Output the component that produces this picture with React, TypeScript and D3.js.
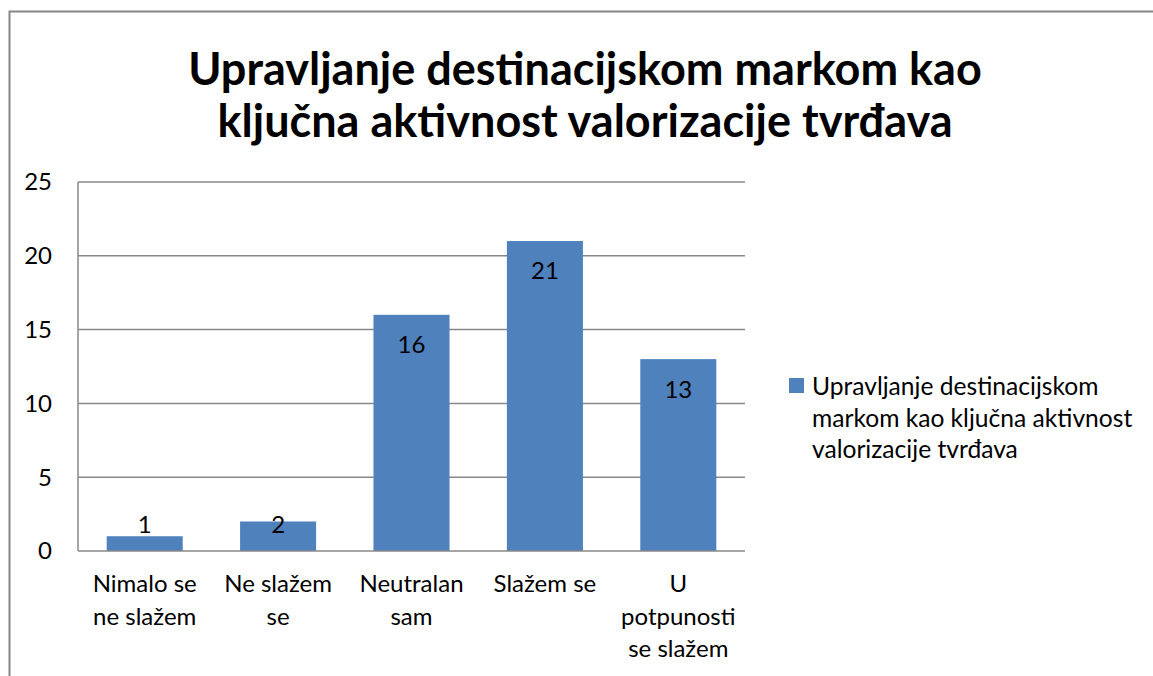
import { useEffect, useRef } from 'react'
import * as d3 from 'd3'

const categories = ['Nimalo se ne slažem', 'Ne slažem se', 'Neutralan sam', 'Slažem se', 'U potpunosti se slažem']
const categoryLines = [
  ['Nimalo se', 'ne slažem'],
  ['Ne slažem', 'se'],
  ['Neutralan', 'sam'],
  ['Slažem se'],
  ['U', 'potpunosti', 'se slažem']
]
const values = [1, 2, 16, 21, 13]
const yTicks = [0, 5, 10, 15, 20, 25]
const titleLines = ['Upravljanje destinacijskom markom kao', 'ključna aktivnost valorizacije tvrđava']
const legendLines = ['Upravljanje destinacijskom', 'markom kao ključna aktivnost', 'valorizacije tvrđava']

const FONT = 'Lato, Carlito, "Open Sans", sans-serif'

const App = () => {
  const svgRef = useRef<SVGSVGElement>(null)

  useEffect(() => {
    const width = 1153
    const height = 676
    const plot = { left: 78, right: 745, top: 182, bottom: 551 }

    const svg = d3.select(svgRef.current)
    svg.selectAll('*').remove()
    svg.attr('width', width).attr('height', height)

    svg.append('rect')
      .attr('width', width)
      .attr('height', height)
      .attr('fill', '#fff')

    // chart frame (cut off at right and bottom)
    svg.append('rect')
      .attr('x', 9.5)
      .attr('y', 11.5)
      .attr('width', 1300)
      .attr('height', 800)
      .attr('fill', 'none')
      .attr('stroke', '#878787')
      .attr('stroke-width', 2)

    svg.selectAll('.title')
      .data(titleLines)
      .enter()
      .append('text')
      .attr('x', 585)
      .attr('y', (d, i) => 85 + i * 52)
      .attr('text-anchor', 'middle')
      .attr('font-family', FONT)
      .attr('font-weight', 'bold')
      .attr('font-size', 45)
      .attr('fill', '#000')
      .text(d => d)

    const x = d3.scaleBand()
      .domain(categories)
      .range([plot.left, plot.right])
      .paddingInner(0.43)
      .paddingOuter(0.215)

    const y = d3.scaleLinear()
      .domain([0, 25])
      .range([plot.bottom, plot.top])

    // gridlines
    svg.append('g')
      .selectAll('line')
      .data(yTicks.filter(t => t > 0))
      .enter()
      .append('line')
      .attr('x1', plot.left)
      .attr('x2', plot.right)
      .attr('y1', d => y(d))
      .attr('y2', d => y(d))
      .attr('stroke', '#888')
      .attr('stroke-width', 1.5)

    // y tick labels
    svg.append('g')
      .selectAll('text')
      .data(yTicks)
      .enter()
      .append('text')
      .attr('x', 52)
      .attr('y', d => y(d))
      .attr('dy', '0.35em')
      .attr('text-anchor', 'end')
      .attr('font-family', FONT)
      .attr('font-size', 24)
      .attr('fill', '#000')
      .text(d => d)

    // bars
    svg.append('g')
      .selectAll('rect')
      .data(values)
      .enter()
      .append('rect')
      .attr('x', (d, i) => x(categories[i]))
      .attr('y', d => y(d))
      .attr('width', x.bandwidth())
      .attr('height', d => y(0) - y(d))
      .attr('fill', '#4F81BD')

    // axes lines
    svg.append('line')
      .attr('x1', plot.left)
      .attr('x2', plot.left)
      .attr('y1', plot.top)
      .attr('y2', plot.bottom)
      .attr('stroke', '#888')
      .attr('stroke-width', 1.5)

    svg.append('line')
      .attr('x1', plot.left)
      .attr('x2', plot.right)
      .attr('y1', plot.bottom)
      .attr('y2', plot.bottom)
      .attr('stroke', '#888')
      .attr('stroke-width', 1.5)

    // value labels, inside end
    svg.append('g')
      .selectAll('text')
      .data(values)
      .enter()
      .append('text')
      .attr('x', (d, i) => x(categories[i]) + x.bandwidth() / 2)
      .attr('y', d => Math.min(y(d) + 30, y(0) - 26))
      .attr('dy', '0.35em')
      .attr('text-anchor', 'middle')
      .attr('font-family', FONT)
      .attr('font-size', 24)
      .attr('fill', '#000')
      .text(d => d)

    // category labels
    const catLabels = svg.append('g')
      .selectAll('text')
      .data(categoryLines)
      .enter()
      .append('text')
      .attr('text-anchor', 'middle')
      .attr('font-family', FONT)
      .attr('font-size', 24)
      .attr('fill', '#000')

    catLabels.selectAll('tspan')
      .data((d, i) => d.map(line => ({ line, i })))
      .enter()
      .append('tspan')
      .attr('x', d => x(categories[d.i]) + x.bandwidth() / 2)
      .attr('y', (d, j) => plot.bottom + 41 + j * 32.5)
      .text(d => d.line)

    // legend
    svg.append('rect')
      .attr('x', 789)
      .attr('y', 378)
      .attr('width', 15)
      .attr('height', 15)
      .attr('fill', '#4F81BD')

    svg.append('g')
      .selectAll('text')
      .data(legendLines)
      .enter()
      .append('text')
      .attr('x', 812)
      .attr('y', (d, i) => 395 + i * 31.5)
      .attr('font-family', FONT)
      .attr('font-size', 24.6)
      .attr('fill', '#000')
      .text(d => d)
  }, [])

  return <svg ref={svgRef} style={{ position: 'absolute', left: 0, top: 0 }}></svg>
}

export default App
